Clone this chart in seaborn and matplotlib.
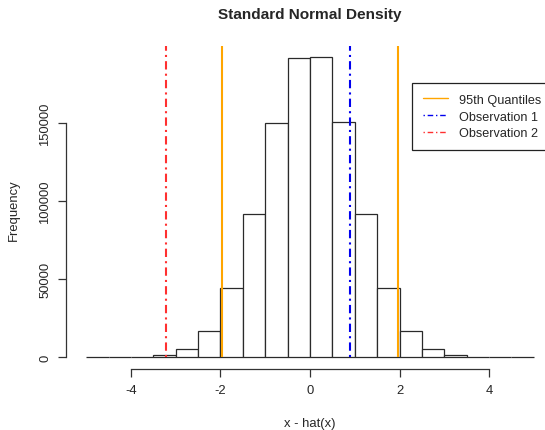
import matplotlib
matplotlib.use("Agg")
import matplotlib.pyplot as plt
from matplotlib.lines import Line2D
import seaborn as sns

# histogram bins (width 0.5) and counts
bin_edges = [-5.0, -4.5, -4.0, -3.5, -3.0, -2.5, -2.0, -1.5, -1.0, -0.5, 0.0,
             0.5, 1.0, 1.5, 2.0, 2.5, 3.0, 3.5, 4.0, 4.5, 5.0]
counts = [3, 30, 210, 1100, 4900, 16600, 44200, 91900, 150400, 191800,
          192600, 150800, 91800, 44100, 16600, 4900, 1100, 210, 30, 3]

quantiles = [-1.96, 1.96]
obs1 = 0.89
obs2 = -3.22

sns.set_theme(style="white")
plt.rcParams["font.family"] = ["Liberation Sans", "DejaVu Sans"]

fs = 9.4
fig = plt.figure(figsize=(5.45, 4.31), dpi=100)
ax = fig.add_axes([66 / 545, 61 / 431, 479 / 545, 323 / 431])

centers = [(a + b) / 2 for a, b in zip(bin_edges[:-1], bin_edges[1:])]
sns.histplot(x=centers, weights=counts, bins=bin_edges, ax=ax,
             color="white", edgecolor="#2a2a2a", linewidth=0.9, alpha=1)

top = 200000
dotdash = (0, (1, 2, 4, 2))
ax.vlines(quantiles, 0, top, colors="#FFA500", linewidth=1.5)
ax.vlines([obs1], 0, top, colors="#0000EE", linewidth=1.5, linestyles=dotdash)
ax.vlines([obs2], 0, top, colors="#FF3030", linewidth=1.5, linestyles=dotdash)

ax.set_xlim(-5.45, 5.25)
ax.set_ylim(-7680, 199680)

for s in ["top", "right"]:
    ax.spines[s].set_visible(False)
for s in ["left", "bottom"]:
    ax.spines[s].set_color("#333333")
    ax.spines[s].set_linewidth(0.9)
ax.spines["bottom"].set_bounds(-4, 4)
ax.spines["left"].set_bounds(0, 150000)

ax.set_xticks([-4, -2, 0, 2, 4])
ax.set_xticklabels(["-4", "-2", "0", "2", "4"])
ax.set_yticks([0, 50000, 100000, 150000])
ax.set_yticklabels(["0", "50000", "100000", "150000"], rotation=90, va="center")
ax.tick_params(axis="both", direction="out", length=5.5, width=0.9,
               color="#333333", labelsize=fs, pad=5, bottom=True, left=True)
ax.set_xlabel("")
ax.set_ylabel("")

fig.text(310 / 545, 1 - 15 / 431, "Standard Normal Density", ha="center",
         va="center", fontsize=11.1, fontweight="bold")
fig.text(310 / 545, 1 - 424 / 431, "x - hat(x)", ha="center", va="center",
         fontsize=fs)
fig.text(14 / 545, 1 - 210 / 431, "Frequency", ha="center", va="center",
         rotation=90, fontsize=fs)

handles = [Line2D([], [], color="#FFA500", lw=1),
           Line2D([], [], color="#0000EE", lw=1, ls=dotdash),
           Line2D([], [], color="#FF3030", lw=1, ls=dotdash)]
leg = fig.legend(handles, ["95th Quantiles", "Observation 1", "Observation 2"],
                 loc="upper left", bbox_to_anchor=(412 / 545, 1 - 84 / 431),
                 fontsize=9.1, frameon=True, fancybox=False, edgecolor="#222222",
                 framealpha=1, borderpad=0.85, handlelength=2.0,
                 handletextpad=0.85, labelspacing=0.38, borderaxespad=0)
leg.get_frame().set_linewidth(0.9)

fig.savefig("out.png", dpi=100)
